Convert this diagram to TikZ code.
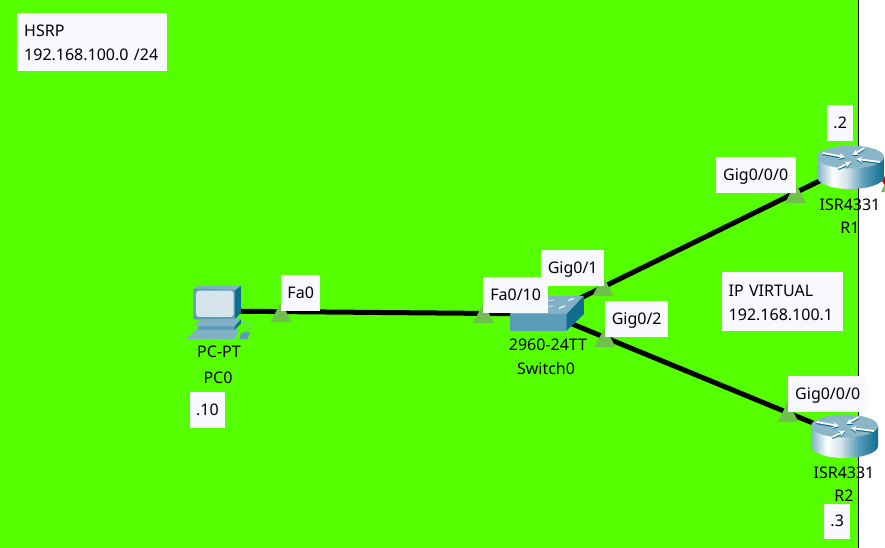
\documentclass[tikz,border=0pt]{standalone}
\usepackage{fontspec}
\setmainfont{Noto Sans}
\usetikzlibrary{arrows.meta}
\definecolor{bggreen}{HTML}{55FF00}
\definecolor{trigreen}{HTML}{70C04E}
\definecolor{boxwhite}{HTML}{F8F9FF}
\definecolor{devblue}{HTML}{5B9DB9}
\definecolor{devlight}{HTML}{80B1C6}
\definecolor{devdark}{HTML}{0F6E8E}
\definecolor{screenc}{HTML}{D5E3EA}
\definecolor{routertop}{HTML}{8AB6C8}
\pgfdeclarehorizontalshading{routerbody}{100bp}{
 color(0bp)=(devdark!80!black);
 color(25bp)=(devblue);
 color(50bp)=(devlight);
 color(62bp)=(white);
 color(72bp)=(screenc);
 color(85bp)=(devblue);
 color(100bp)=(devdark);
 color(125bp)=(devdark!80!black);
 color(150bp)=(devdark!80!black)}
\tikzset{
 linkline/.style={line width=5pt,black},
 porttri/.style={fill=trigreen,draw=none},
 txt/.style={font=\fontsize{16}{24}\selectfont,inner sep=0pt,text=black,yshift=-0.8pt},
 boxlab/.style={fill=boxwhite,inner sep=0pt,anchor=north west,font=\fontsize{16}{24}\selectfont,text=black,align=center,text height=13pt,text depth=3pt},
 twoline/.style={text height={},text depth={},align=left},
 rarrow/.style={line width=1.8pt,-{Stealth[length=6pt,width=6pt]}},
}
\newcommand{\porttriangle}[2]{\fill[porttri] (#1-10.5,#2) -- (#1,#2-20) -- (#1+10.5,#2) -- cycle;}
\newcommand{\routerarrow}[4]{%
 \draw[rarrow,devdark] (#1,#2+1.2) -- (#3,#4+1.2);
 \draw[rarrow,white] (#1,#2) -- (#3,#4);}
\newcommand{\routericon}[2]{%
 \begin{scope}[shift={(#1,#2)}]
  \shade[shading=routerbody]
    (-33.5,-10) -- (-33.5,10) arc[start angle=180,end angle=360,x radius=33.5,y radius=-12] -- (33.5,-10) -- cycle;
  \fill[routertop] (0,-10) ellipse[x radius=33.5,y radius=11.5];
  \routerarrow{-28}{-14}{-5.5}{-10}
  \routerarrow{14}{-19}{2}{-12}
  \routerarrow{-12}{1}{0.5}{-5}
  \routerarrow{29.5}{-5}{6}{-8}
 \end{scope}}
\begin{document}
\begin{tikzpicture}[x=1pt,y=-1pt]
\useasboundingbox (0,0) rectangle (885,548);
\fill[bggreen] (0,0) rectangle (858,548);
\fill[white] (858,0) rectangle (885,548);
\draw[black,line width=1.4pt] (858.5,0) -- (858.5,548);
% small fragments at right edge
\fill[red!85!black] (882,181) -- (885,176) -- (885,186) -- cycle;
\fill[trigreen] (881,192) -- (885,184) -- (885,192) -- cycle;

\coordinate (pc) at (215,311);
\coordinate (sw) at (548,314);
\coordinate (r1) at (850,166);
\coordinate (r2) at (844.5,436);
\draw[linkline] (pc) -- (sw);
\draw[linkline] (sw) -- (r1);
\draw[linkline] (sw) -- (r2);

\porttriangle{281}{322}
\porttriangle{483.5}{323}
\porttriangle{603}{296}
\porttriangle{605}{347}
\porttriangle{795.5}{203}
\porttriangle{788}{422}

% PC icon
\begin{scope}[shift={(160,260)},x=0.3333pt,y=-0.3333pt]
 \fill[devlight] (100,85) -- (118,77) -- (243,77) -- (225,92) -- cycle;
 \fill[devdark] (225,92) -- (243,77) -- (243,158) -- (225,178) -- cycle;
 \fill[devblue] (100,85) -- (225,90) -- (225,178) -- (100,178) -- cycle;
 \fill[screenc,rounded corners=3pt] (108,92) rectangle (221,171);
 \fill[devlight] (100,197) -- (120,180) -- (243,175) -- (225,197) -- cycle;
 \fill[devblue] (115,198) -- (225,198) -- (225,210) -- (115,210) -- cycle;
 \fill[devdark] (225,198) -- (243,178) -- (243,190) -- (225,210) -- cycle;
 \fill[devlight] (78,237) -- (108,210) -- (235,210) -- (225,237) -- cycle;
 \fill[devblue] (238,238) -- (243,218) -- (270,216) -- (262,238) -- cycle;
 \draw[devlight,line width=0.6pt] (243,188) .. controls (275,185) and (280,200) .. (255,216);
\end{scope}

% Switch icon
\begin{scope}[shift={(470,240)},x=0.3333pt,y=-0.3333pt]
 \fill[devblue] (120,222) rectangle (290,272);
 \fill[devlight] (120,222) -- (185,168) -- (342,168) -- (290,222) -- cycle;
 \fill[devdark] (290,222) -- (342,168) -- (342,222) -- (290,272) -- cycle;
 \draw[white,line width=1.2pt] (295,181) -- (312,175);
 \draw[white,line width=1.2pt] (267,205) -- (285,197);
 \draw[white!70!devlight,line width=0.8pt] (230,182) -- (252,180);
 \draw[white!70!devlight,line width=0.8pt] (228,200) -- (250,198);
\end{scope}

\routericon{850.5}{167}
\routericon{844.5}{436}

% device labels
\node[txt] (pcA) at (219,351) {PC-PT};
\node[txt] (pcB) at (218,377) {PC0};
\node[txt] (swA) at (548,344) {2960-24TT};
\node[txt] (swB) at (546,368) {Switch0};
\node[txt] (r1A) at (850,204) {ISR4331};
\node[txt] (r1B) at (850,227) {R1};
\node[txt] (r2A) at (844,472) {ISR4331};
\node[txt] (r2B) at (844,495) {R2};

% label boxes
\node[boxlab,twoline,minimum width=150pt,minimum height=58pt,text width=136pt] (hsrp) at (17,13) {\rule{0pt}{13.5pt}HSRP\\192.168.100.0 /24};
\node[boxlab,minimum width=39pt,minimum height=36pt] (fa0) at (281,275) {Fa0};
\node[boxlab,minimum width=35.5pt,minimum height=36pt] (dot10) at (189.5,392) {.10};
\node[boxlab,minimum width=63pt,minimum height=36pt] (g01) at (541,250) {Gig0/1};
\node[boxlab,minimum width=65pt,minimum height=36pt] (fa10) at (483,277) {Fa0/10};
\node[boxlab,minimum width=63pt,minimum height=36pt] (g02) at (605,301) {Gig0/2};
\node[boxlab,minimum width=80pt,minimum height=36pt] (g000a) at (715.5,157) {Gig0/0/0};
\node[boxlab,minimum width=26pt,minimum height=36pt] (dot2) at (827,105) {.2};
\node[boxlab,twoline,minimum width=121pt,minimum height=59pt,text width=108pt] (ipv) at (722,272) {\rule{0pt}{14.5pt}IP VIRTUAL\\192.168.100.1};
\node[boxlab,minimum width=79pt,minimum height=36pt] (g000b) at (788,376) {Gig0/0/0};
\node[boxlab,minimum width=26pt,minimum height=35pt] (dot3) at (824,504) {.3};
\end{tikzpicture}
\end{document}
